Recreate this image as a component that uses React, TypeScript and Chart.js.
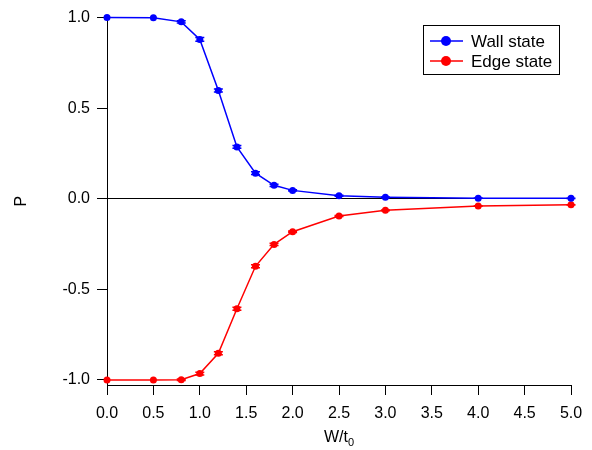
import React, { useEffect, useRef } from "react";
import { Chart, registerables } from "chart.js";

Chart.register(...registerables);

const widthValues = [0, 0.5, 0.8, 1.0, 1.2, 1.4, 1.6, 1.8, 2.0, 2.5, 3.0, 4.0, 5.0];
const wallState = [1.0, 0.999, 0.976, 0.879, 0.597, 0.286, 0.141, 0.074, 0.046, 0.016, 0.008, 0.003, 0.002];
const wallError = [0, 0, 0.006, 0.01, 0.008, 0.008, 0.008, 0.006, 0.004, 0.003, 0.002, 0.001, 0.001];
const edgeState = [-1.0, -1.0, -0.999, -0.965, -0.853, -0.607, -0.373, -0.252, -0.182, -0.095, -0.064, -0.04, -0.034];
const edgeError = [0, 0, 0.004, 0.008, 0.008, 0.008, 0.008, 0.006, 0.004, 0.003, 0.002, 0.001, 0.001];
const yTicks = [-1.0, -0.5, 0.0, 0.5, 1.0];
const seriesLabels = ["Wall state", "Edge state"];
const seriesColors = ["#0000ff", "#ff0000"];
const xTitle = "W/t";
const xTitleSub = "0";
const yTitle = "P";

const FONT = "'Liberation Sans', Arial, sans-serif";

const errorBarPlugin = {
  id: "errorBars",
  afterDatasetsDraw(chart: any) {
    const ctx = chart.ctx;
    const ys = chart.scales.y;
    chart.data.datasets.forEach((ds: any, i: number) => {
      const meta = chart.getDatasetMeta(i);
      const errs: number[] = ds.errors || [];
      ctx.save();
      ctx.strokeStyle = ds.borderColor;
      ctx.lineWidth = 1.5;
      meta.data.forEach((pt: any, j: number) => {
        const e = errs[j];
        if (!e) return;
        const v = ds.data[j].y;
        const y1 = ys.getPixelForValue(v + e);
        const y2 = ys.getPixelForValue(v - e);
        const x = pt.x;
        ctx.beginPath();
        ctx.moveTo(x, y1);
        ctx.lineTo(x, y2);
        ctx.moveTo(x - 4.5, y1);
        ctx.lineTo(x + 4.5, y1);
        ctx.moveTo(x - 4.5, y2);
        ctx.lineTo(x + 4.5, y2);
        ctx.stroke();
      });
      ctx.restore();
    });
  },
};

const legendPlugin = {
  id: "boxLegend",
  afterDraw(chart: any) {
    const ctx = chart.ctx;
    const left = 423;
    const top = 25;
    const w = 136;
    const h = 49;
    ctx.save();
    ctx.strokeStyle = "#000";
    ctx.lineWidth = 1;
    ctx.strokeRect(left + 0.5, top + 0.5, w, h);
    chart.data.datasets.forEach((ds: any, i: number) => {
      const cy = top + 16 + i * 20;
      ctx.strokeStyle = ds.borderColor;
      ctx.lineWidth = 1.5;
      ctx.beginPath();
      ctx.moveTo(430, cy);
      ctx.lineTo(463, cy);
      ctx.stroke();
      ctx.fillStyle = ds.borderColor;
      ctx.beginPath();
      ctx.arc(446, cy, 5, 0, Math.PI * 2);
      ctx.fill();
      ctx.fillStyle = "#000";
      ctx.font = `17px ${FONT}`;
      ctx.textAlign = "left";
      ctx.textBaseline = "middle";
      ctx.fillText(ds.label, 471, cy + 1);
    });
    ctx.restore();
  },
};

const xTitlePlugin = {
  id: "xTitleSub",
  afterDraw(chart: any) {
    const ctx = chart.ctx;
    const area = chart.chartArea;
    const cx = (area.left + area.right) / 2;
    ctx.save();
    ctx.fillStyle = "#000";
    ctx.textBaseline = "alphabetic";
    ctx.font = `16px ${FONT}`;
    const mainW = ctx.measureText(xTitle).width;
    ctx.font = `11px ${FONT}`;
    const subW = ctx.measureText(xTitleSub).width;
    const startX = cx - (mainW + subW) / 2;
    ctx.font = `16px ${FONT}`;
    ctx.textAlign = "left";
    ctx.fillText(xTitle, startX, 442);
    ctx.font = `11px ${FONT}`;
    ctx.fillText(xTitleSub, startX + mainW, 446);
    ctx.restore();
  },
};

export default function App() {
  const ref = useRef<HTMLCanvasElement | null>(null);

  useEffect(() => {
    if (!ref.current) return;
    const mk = (vals: number[]) => widthValues.map((x, i) => ({ x, y: vals[i] }));
    const chart = new Chart(ref.current, {
      type: "line",
      data: {
        datasets: [
          {
            label: seriesLabels[0],
            data: mk(wallState),
            errors: wallError,
            borderColor: seriesColors[0],
            backgroundColor: seriesColors[0],
            borderWidth: 1.5,
            pointRadius: 3.5,
            pointBorderWidth: 0,
            tension: 0,
            clip: false,
          } as any,
          {
            label: seriesLabels[1],
            data: mk(edgeState),
            errors: edgeError,
            borderColor: seriesColors[1],
            backgroundColor: seriesColors[1],
            borderWidth: 1.5,
            pointRadius: 3.5,
            pointBorderWidth: 0,
            tension: 0,
            clip: false,
          } as any,
        ],
      },
      options: {
        animation: false,
        responsive: false,
        devicePixelRatio: 1,
        layout: { padding: { top: 17.5, right: 21, left: 0, bottom: 0 } },
        plugins: {
          legend: { display: false },
          tooltip: { enabled: false },
        },
        scales: {
          x: {
            type: "linear",
            min: 0,
            max: 5,
            afterFit: (s: any) => {
              s.height = 65;
            },
            border: { color: "#000", width: 1 },
            grid: { drawOnChartArea: false, tickLength: 10, color: "#000", tickColor: "#000" },
            ticks: {
              stepSize: 0.5,
              color: "#000",
              font: { family: FONT, size: 16 },
              padding: 9,
              maxRotation: 0,
              autoSkip: false,
              callback: (v: any) => Number(v).toFixed(1),
            },
            title: { display: false },
          },
          y: {
            type: "linear",
            min: -1.028,
            max: 1.0,
            afterFit: (s: any) => {
              s.width = 107;
            },
            afterBuildTicks: (s: any) => {
              s.ticks = yTicks.map((v) => ({ value: v }));
            },
            border: { color: "#000", width: 1 },
            grid: {
              drawOnChartArea: true,
              tickLength: 10,
              tickColor: "#000",
              color: (c: any) => (c.tick && c.tick.value === 0 ? "#000" : "rgba(0,0,0,0)"),
              lineWidth: 1,
            },
            ticks: {
              color: "#000",
              font: { family: FONT, size: 16 },
              padding: 7,
              callback: (v: any) => Number(v).toFixed(1),
            },
            title: {
              display: true,
              text: yTitle,
              color: "#000",
              font: { family: FONT, size: 16 },
              padding: { top: 12, bottom: 0 },
            },
          },
        },
      },
      plugins: [errorBarPlugin, legendPlugin, xTitlePlugin],
    });
    return () => chart.destroy();
  }, []);

  return (
    <div style={{ position: "absolute", left: 0, top: 0, width: 592, height: 450, background: "#fff" }}>
      <canvas ref={ref} width={592} height={450} style={{ width: 592, height: 450, display: "block" }} />
    </div>
  );
}
